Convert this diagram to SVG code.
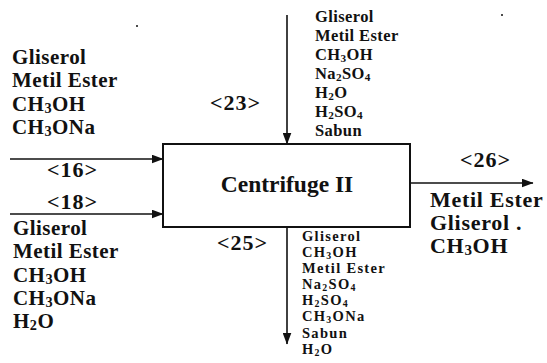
<svg xmlns="http://www.w3.org/2000/svg" width="547" height="363" viewBox="0 0 547 363">
<style>
text{font-family:'Liberation Serif','Times New Roman',serif;font-weight:bold;fill:#111}
.big{font-size:21px;letter-spacing:0.45px}
.lbl{font-size:22px;letter-spacing:1px}
.top{font-size:16.5px;letter-spacing:0.4px}
.bot{font-size:14.5px;letter-spacing:1.3px}
.out{font-size:22px;letter-spacing:0.7px}
.title{font-size:23.5px}
.s{font-size:0.68em}
.line{stroke:#111;stroke-width:1.6;fill:none}
</style>
<defs>
<marker id="ah" markerWidth="12" markerHeight="9" refX="11.5" refY="4.5" orient="auto" markerUnits="userSpaceOnUse">
<path d="M0,0 L12,4.5 L0,9 Z" fill="#111"/>
</marker>
</defs>
<rect width="547" height="363" fill="#fff"/>
<g id="connectors">
<line class="line" x1="10" y1="159" x2="163" y2="159" marker-end="url(#ah)"/>
<line class="line" x1="10" y1="214" x2="163" y2="214" marker-end="url(#ah)"/>
<line class="line" x1="287" y1="15" x2="287" y2="144" marker-end="url(#ah)"/>
<line class="line" x1="410" y1="183" x2="533" y2="183" marker-end="url(#ah)"/>
<line class="line" x1="287" y1="227" x2="287" y2="344" marker-end="url(#ah)"/>
</g>
<g id="centrifuge">
<rect x="163" y="144" width="247" height="83" fill="none" stroke="#111" stroke-width="2"/>
<text class="title" x="287" y="192" text-anchor="middle">Centrifuge II</text>
</g>
<g id="stream16">
<text class="big" x="12" y="64">Gliserol</text>
<text class="big" x="12" y="87">Metil Ester</text>
<text class="big" x="12" y="111">CH<tspan class="s" dy="2">3</tspan><tspan dy="-2">OH</tspan></text>
<text class="big" x="12" y="134">CH<tspan class="s" dy="2">3</tspan><tspan dy="-2">ONa</tspan></text>
<text class="lbl" x="47" y="177">&lt;16&gt;</text>
</g>
<g id="stream18">
<text class="lbl" x="47" y="209">&lt;18&gt;</text>
<text class="big" x="13" y="235">Gliserol</text>
<text class="big" x="13" y="258">Metil Ester</text>
<text class="big" x="13" y="282">CH<tspan class="s" dy="2">3</tspan><tspan dy="-2">OH</tspan></text>
<text class="big" x="13" y="305">CH<tspan class="s" dy="2">3</tspan><tspan dy="-2">ONa</tspan></text>
<text class="big" x="13" y="328">H<tspan class="s" dy="2">2</tspan><tspan dy="-2">O</tspan></text>
</g>
<g id="stream23">
<text class="lbl" x="210" y="110">&lt;23&gt;</text>
<text class="top" x="315" y="22">Gliserol</text>
<text class="top" x="315" y="41">Metil Ester</text>
<text class="top" x="315" y="60">CH<tspan class="s" dy="2">3</tspan><tspan dy="-2">OH</tspan></text>
<text class="top" x="315" y="79">Na<tspan class="s" dy="2">2</tspan><tspan dy="-2">SO</tspan><tspan class="s" dy="2">4</tspan></text>
<text class="top" x="315" y="98">H<tspan class="s" dy="2">2</tspan><tspan dy="-2">O</tspan></text>
<text class="top" x="315" y="117">H<tspan class="s" dy="2">2</tspan><tspan dy="-2">SO</tspan><tspan class="s" dy="2">4</tspan></text>
<text class="top" x="315" y="136">Sabun</text>
</g>
<g id="stream25">
<text class="lbl" x="217" y="250">&lt;25&gt;</text>
<text class="bot" x="302" y="241">Gliserol</text>
<text class="bot" x="302" y="257">CH<tspan class="s" dy="2">3</tspan><tspan dy="-2">OH</tspan></text>
<text class="bot" x="302" y="273">Metil Ester</text>
<text class="bot" x="302" y="289">Na<tspan class="s" dy="2">2</tspan><tspan dy="-2">SO</tspan><tspan class="s" dy="2">4</tspan></text>
<text class="bot" x="302" y="305">H<tspan class="s" dy="2">2</tspan><tspan dy="-2">SO</tspan><tspan class="s" dy="2">4</tspan></text>
<text class="bot" x="302" y="321">CH<tspan class="s" dy="2">3</tspan><tspan dy="-2">ONa</tspan></text>
<text class="bot" x="302" y="338">Sabun</text>
<text class="bot" x="302" y="354">H<tspan class="s" dy="2">2</tspan><tspan dy="-2">O</tspan></text>
</g>
<g id="stream26">
<text class="lbl" x="460" y="167">&lt;26&gt;</text>
<text class="out" x="430" y="207">Metil Ester</text>
<text class="out" x="430" y="230">Gliserol .</text>
<text class="out" x="430" y="253">CH<tspan class="s" dy="2">3</tspan><tspan dy="-2">OH</tspan></text>
</g>
<circle cx="137" cy="26" r="1" fill="#111"/>
<circle cx="502" cy="15" r="1" fill="#111"/>
</svg>
